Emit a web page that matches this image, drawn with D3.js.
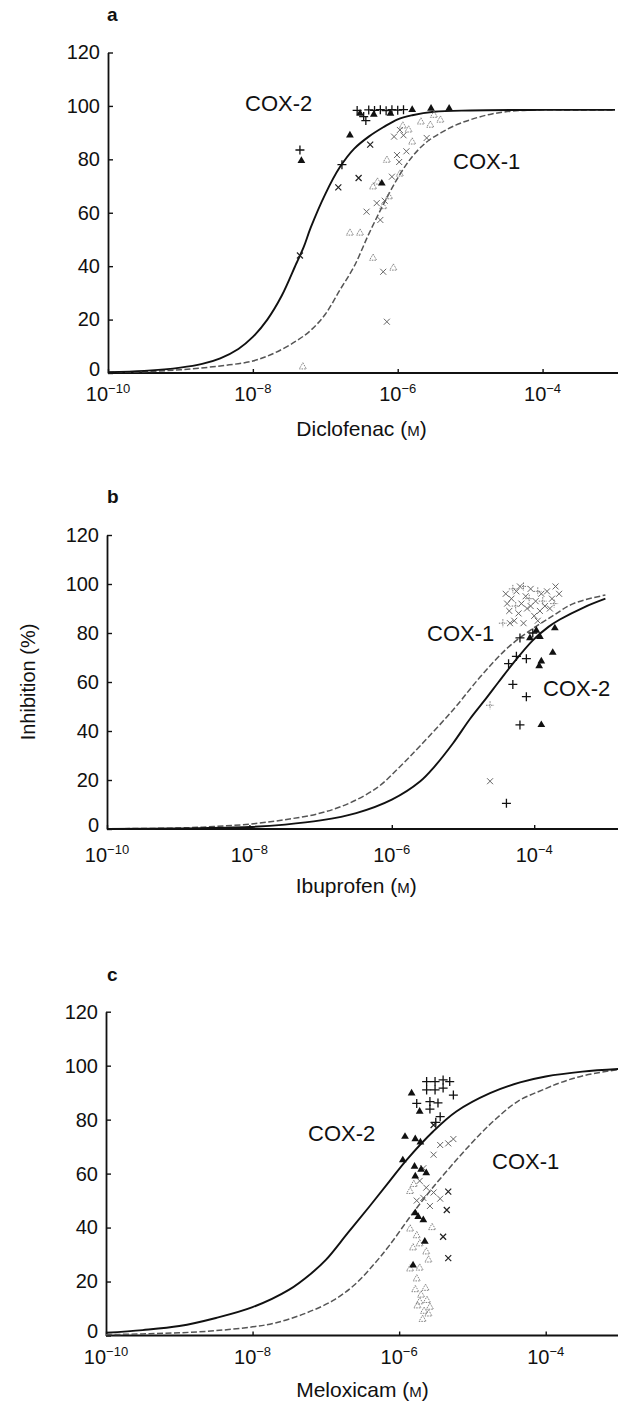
<!DOCTYPE html>
<html><head><meta charset="utf-8">
<script src="https://cdn.jsdelivr.net/npm/d3@7"></script>
<style>
body{margin:0;background:#fff;}
svg{display:block;}
text{font-family:"Liberation Sans",Arial,Helvetica,sans-serif;fill:#111;}
</style>
</head><body>
<svg id="chart" width="618" height="1403"></svg>
<script>
// ---------- DATA (x = log10 concentration in M, y = % inhibition) ----------
const xTickValues = [1e-10, 1e-8, 1e-6, 1e-4];
const xTickExponents = ["\u221210", "\u22128", "\u22126", "\u22124"];
const yTickValues = [0, 20, 40, 60, 80, 100, 120];
const drugs = ["Diclofenac", "Ibuprofen", "Meloxicam"];
const panelLetters = ["a", "b", "c"];

// Diclofenac
const diclofenacCox2Curve = [[-10,0.3],[-9.5,0.8],[-9,2],[-8.7,3.4],[-8.45,5.5],[-8.2,9],[-8.0,13.5],[-7.8,20],[-7.6,29],[-7.4,41],[-7.3,47],[-7.2,54.5],[-7.0,67],[-6.8,77],[-6.6,84],[-6.4,88.5],[-6.2,92],[-6.0,95],[-5.8,96.5],[-5.5,97.8],[-5.0,98.3],[-4.0,98.5],[-3.0,98.5]];
const diclofenacCox1Curve = [[-10,0.2],[-9.5,0.5],[-9,1.2],[-8.5,2.5],[-8,4.5],[-7.7,7.5],[-7.4,12],[-7.2,16],[-7.0,22],[-6.8,31],[-6.6,40],[-6.4,52],[-6.2,63],[-6.0,73],[-5.8,81],[-5.6,86.5],[-5.4,90],[-5.2,92.8],[-5.0,94.8],[-4.7,97],[-4.3,98.3],[-3.5,98.5],[-3.0,98.5]];
const diclofenacCox2Tri = [[-7.33,79.5],[-6.66,89],[-6.52,97.2],[-6.33,96.8],[-6.10,97.2],[-5.80,98.6],[-5.54,99],[-5.29,99],[-6.22,71]];
const diclofenacCox2Plus = [[-7.35,83.5],[-6.77,78],[-6.56,98.3],[-6.47,96],[-6.40,98.5],[-6.32,98.3],[-6.24,98.6],[-6.16,98.2],[-6.08,98.6],[-6.0,98.4],[-5.92,98.6],[-6.44,94.5]];
const diclofenacCox2Cross = [[-7.35,44],[-6.82,69.5],[-6.38,85.5],[-6.54,73]];
const diclofenacCox1Cross = [[-5.97,91],[-5.60,88],[-6.01,81.6],[-6.08,73.5],[-6.29,63.6],[-6.43,60.4],[-6.24,57.3],[-6.20,37.9],[-6.15,19.2],[-5.88,83],[-5.92,89],[-6.05,88.5],[-6.18,64.5],[-5.98,79]];
const diclofenacCox1Open = [[-5.93,92.5],[-5.85,91],[-5.55,92.8],[-5.41,94.7],[-6.15,79.7],[-6.34,69.7],[-5.97,74.5],[-6.20,62.3],[-6.66,52.4],[-6.52,52.4],[-6.34,43],[-6.06,39.3],[-7.31,2.3],[-6.28,71.5],[-5.80,86.5],[-5.68,94],[-5.50,96.5],[-6.12,66]];

// Ibuprofen
const ibuprofenCox2Curve = [[-10,0],[-9,0.2],[-8,0.8],[-7.5,1.8],[-7,3.5],[-6.5,6.5],[-6.0,12],[-5.6,19.5],[-5.4,25.5],[-5.14,35],[-4.9,45],[-4.67,53.5],[-4.5,60],[-4.3,67.5],[-4.02,77],[-3.8,82.5],[-3.64,85.5],[-3.3,90.5],[-3.0,94]];
const ibuprofenCox1Curve = [[-10,0.1],[-9,0.4],[-8.5,1],[-8,2],[-7.5,3.8],[-7,6.5],[-6.6,10.5],[-6.2,17],[-5.9,25],[-5.6,34],[-5.14,48.6],[-4.76,62],[-4.39,73.5],[-4.06,81],[-3.74,87],[-3.45,92],[-3.0,95.5]];
const ibuprofenCox2Tri = [[-3.71,82],[-3.74,72],[-3.90,68.5],[-3.93,66.5],[-3.90,42.5],[-4.06,78],[-3.92,78.5],[-3.97,81]];
const ibuprofenCox2Plus = [[-4.30,59],[-4.11,54],[-4.20,42.5],[-4.11,69.5],[-4.25,70.5],[-4.36,67.5],[-4.39,10.5],[-4.20,78],[-4.02,80]];
const ibuprofenCox1Cross = [[-4.40,96],[-4.32,94],[-4.25,97],[-4.18,92],[-4.12,95],[-4.05,98],[-3.98,93],[-3.90,96],[-3.82,97],[-3.75,94],[-3.70,99],[-4.35,89],[-4.22,88],[-4.10,90],[-4.00,87],[-3.92,89],[-3.85,91],[-4.28,85],[-4.15,84],[-3.95,85],[-4.38,92],[-4.05,91],[-3.78,90],[-4.20,99],[-3.65,96],[-4.62,19.5],[-4.34,84]];
const ibuprofenCox1Plus = [[-4.30,98],[-4.15,99],[-3.95,97],[-3.88,93],[-4.07,94],[-3.72,92],[-4.26,91],[-4.44,84],[-4.62,50.5]];

// Meloxicam
const meloxicamCox2Curve = [[-10,1],[-9.5,2],[-9,3.5],[-8.5,6.5],[-8,10.5],[-7.5,17],[-7.2,23],[-7.0,28],[-6.7,38],[-6.4,48],[-6.13,57.2],[-5.9,65],[-5.54,75.5],[-5.22,83],[-4.76,89.8],[-4.35,93.8],[-4.0,96],[-3.5,97.8],[-3.0,98.8]];
const meloxicamCox1Curve = [[-10,0.3],[-9.5,0.6],[-9,1],[-8.5,1.8],[-8,3.2],[-7.7,4.6],[-7.3,8],[-6.9,13],[-6.6,19],[-6.34,26.5],[-6.13,33.5],[-5.85,44],[-5.58,53.5],[-5.22,65],[-4.9,74.5],[-4.67,80.5],[-4.38,86.8],[-4.0,91.5],[-3.8,93.7],[-3.5,96.2],[-3.0,98.6]];
const meloxicamCox2Plus = [[-5.625,94.1],[-5.51,94.1],[-5.40,94.7],[-5.31,94.1],[-5.625,91],[-5.51,91],[-5.40,91.7],[-5.26,89.1],[-5.58,86.7],[-5.47,86.2],[-5.44,81.1],[-5.76,86],[-5.58,83.9],[-5.50,79]];
const meloxicamCox2Tri = [[-5.83,89.8],[-5.72,83],[-5.92,73.7],[-5.78,72.8],[-5.71,71.6],[-5.95,65],[-5.79,62.6],[-5.63,60.2],[-5.78,59],[-5.78,45.4],[-5.67,42.8],[-5.65,34.8],[-5.81,26],[-5.74,44],[-5.70,61.5]];
const meloxicamCox1Cross = [[-5.33,53.3],[-5.35,46.5],[-5.40,36.6],[-5.33,28.7],[-5.53,78]];
const meloxicamCox1GreyCross = [[-5.44,70.6],[-5.33,71.2],[-5.26,72.8],[-5.53,67],[-5.67,62],[-5.72,57.3],[-5.63,54.8],[-5.53,53],[-5.67,51],[-5.76,50],[-5.44,50.7],[-5.58,48]];
const meloxicamCox1Open = [[-5.85,53.4],[-5.80,56],[-5.85,39.5],[-5.76,37],[-5.81,32.5],[-5.72,34],[-5.63,31],[-5.85,24.7],[-5.72,25],[-5.76,21],[-5.78,17],[-5.70,15],[-5.62,13],[-5.75,11],[-5.66,9],[-5.60,8],[-5.72,12.5],[-5.64,17.5],[-5.58,10.5],[-5.68,6],[-5.60,28],[-5.55,40]];

// ---------- LAYOUT ----------
const layout = [
  {x0:108, x1:615, y0:373, y1:52.5, letterY:21, tickY:401, labelY:436,
   labels:[{t:"COX-2", x:245, y:111}, {t:"COX-1", x:453, y:169}]},
  {x0:107, x1:605.4, y0:829, y1:535, letterY:503, tickY:862, labelY:893,
   labels:[{t:"COX-1", x:427, y:641}, {t:"COX-2", x:543, y:696}]},
  {x0:106, x1:619, y0:1335.5, y1:1011.7, letterY:981, tickY:1364, labelY:1397,
   labels:[{t:"COX-2", x:308, y:1141}, {t:"COX-1", x:492, y:1169}]}
];

const panelData = [
  {cox2: diclofenacCox2Curve, cox1: diclofenacCox1Curve, marks: [
    [diclofenacCox1Open, "open"], [diclofenacCox1Cross, "greyCross"],
    [diclofenacCox2Cross, "cross"], [diclofenacCox2Plus, "plus"], [diclofenacCox2Tri, "tri"]]},
  {cox2: ibuprofenCox2Curve, cox1: ibuprofenCox1Curve, marks: [
    [ibuprofenCox1Cross, "greyCross"], [ibuprofenCox1Plus, "greyPlus"],
    [ibuprofenCox2Plus, "plus"], [ibuprofenCox2Tri, "tri"]]},
  {cox2: meloxicamCox2Curve, cox1: meloxicamCox1Curve, marks: [
    [meloxicamCox1Open, "open"], [meloxicamCox1GreyCross, "greyCross"],
    [meloxicamCox1Cross, "cross"], [meloxicamCox2Plus, "plus"], [meloxicamCox2Tri, "tri"]]}
];

const svg = d3.select("#chart");
const FONT = 20;

panelData.forEach((P, i) => {
  const L = layout[i];
  const g = svg.append("g");
  const x = d3.scaleLog().domain([1e-10, 1e-3]).range([L.x0, L.x1]);
  const y = d3.scaleLinear().domain([0, 120]).range([L.y0, L.y1]);
  const px = d => x(Math.pow(10, d[0]));
  const py = d => y(d[1]);

  // y axis
  const gy = g.append("g").attr("transform", `translate(${L.x0},0)`)
    .call(d3.axisLeft(y).tickValues(yTickValues).tickSizeInner(-5).tickSizeOuter(0).tickPadding(8));
  gy.select(".domain").attr("stroke", "#111").attr("stroke-width", 1.8);
  gy.selectAll(".tick line").attr("stroke", "#111").attr("stroke-width", 1.4);
  gy.selectAll(".tick text").attr("font-size", FONT).attr("fill", "#111")
    .style("font-family", '"Liberation Sans",Arial,sans-serif');
  gy.selectAll(".tick").filter(d => d === 0).select("text").attr("dy", "0.1em");

  // x axis
  const gx = g.append("g").attr("transform", `translate(0,${L.y0})`)
    .call(d3.axisBottom(x).tickValues(xTickValues).tickSizeInner(-4).tickSizeOuter(0).tickFormat(() => ""));
  gx.select(".domain").remove();
  gx.selectAll(".tick line").attr("stroke", "#111").attr("stroke-width", 1.4);
  gx.append("line").attr("x1", L.x0).attr("x2", 618).attr("y1", 0).attr("y2", 0)
    .attr("stroke", "#111").attr("stroke-width", 1.8);

  xTickValues.forEach((t, k) => {
    const tx = g.append("text").attr("x", x(t)).attr("y", L.tickY).attr("text-anchor", "middle");
    tx.append("tspan").attr("font-size", FONT).text("10");
    tx.append("tspan").attr("font-size", 13).attr("dy", -8).text(xTickExponents[k]);
  });

  // x label
  const xl = g.append("text").attr("x", (L.x0 + L.x1) / 2).attr("y", L.labelY)
    .attr("text-anchor", "middle").attr("font-size", 21);
  xl.append("tspan").text(drugs[i] + " (");
  xl.append("tspan").attr("font-size", 15).text("M");
  xl.append("tspan").text(")");

  // panel letter
  g.append("text").attr("x", 107).attr("y", L.letterY).attr("font-size", 19)
    .attr("font-weight", "bold").text(panelLetters[i]);

  // curves
  const line = d3.line().x(px).y(py).curve(d3.curveCatmullRom.alpha(0.5));
  g.append("path").datum(P.cox1).attr("d", line).attr("fill", "none")
    .attr("stroke", "#555").attr("stroke-width", 1.5).attr("stroke-dasharray", "6,2.5");
  g.append("path").datum(P.cox2).attr("d", line).attr("fill", "none")
    .attr("stroke", "#111").attr("stroke-width", 1.9);

  // markers
  const triPath = d3.symbol(d3.symbolTriangle, 26)();
  const openTriPath = d3.symbol(d3.symbolTriangle, 22)();
  P.marks.forEach(([data, kind]) => {
    const sel = g.append("g").selectAll("path").data(data).join("path")
      .attr("transform", d => `translate(${px(d)},${py(d)})`);
    if (kind === "tri") sel.attr("d", triPath).attr("fill", "#111");
    else if (kind === "open") sel.attr("d", openTriPath).attr("fill", "none")
      .attr("stroke", "#777").attr("stroke-width", 0.9).attr("stroke-dasharray", "1.6,1");
    else if (kind === "plus") sel.attr("d", "M-4.5,0H4.5M0,-4.5V4.5").attr("stroke", "#111").attr("stroke-width", 1.3);
    else if (kind === "greyPlus") sel.attr("d", "M-4,0H4M0,-4V4").attr("stroke", "#777").attr("stroke-width", 1).attr("stroke-dasharray", "1.5,1");
    else if (kind === "cross") sel.attr("d", "M-3,-3L3,3M-3,3L3,-3").attr("stroke", "#222").attr("stroke-width", 1.2);
    else if (kind === "greyCross") sel.attr("d", "M-3,-3L3,3M-3,3L3,-3").attr("stroke", "#666").attr("stroke-width", 1);
  });

  // COX labels
  L.labels.forEach(l => g.append("text").attr("x", l.x).attr("y", l.y)
    .attr("font-size", 22).text(l.t));
});

// y axis title
svg.append("text").attr("transform", "translate(35,682) rotate(-90)")
  .attr("text-anchor", "middle").attr("font-size", 20).text("Inhibition (%)");
</script>
</body></html>
